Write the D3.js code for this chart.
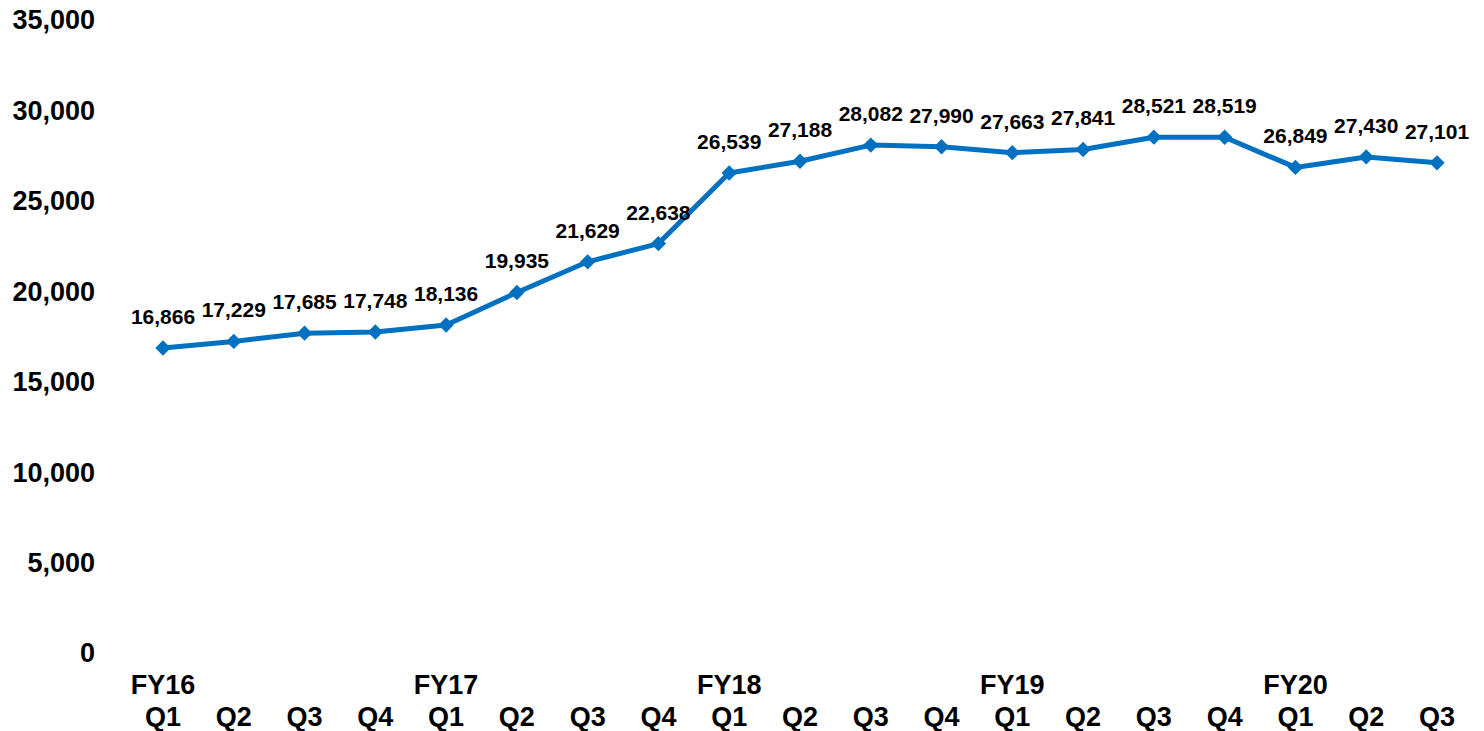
<!DOCTYPE html>
<html>
<head>
<meta charset="utf-8">
<script src="https://cdn.jsdelivr.net/npm/d3@7"></script>
<style>
    body { margin: 0; background: #fff; }
    text { font-family: "Liberation Sans", Arial, sans-serif; font-weight: bold; fill: #000; }
</style>
</head>
<body>
<svg id="chart" width="1484" height="731"></svg>
<script>
var years = ['FY16', '', '', '', 'FY17', '', '', '', 'FY18', '', '', '', 'FY19', '', '', '', 'FY20', '', ''];
var quarters = ['Q1', 'Q2', 'Q3', 'Q4', 'Q1', 'Q2', 'Q3', 'Q4', 'Q1', 'Q2', 'Q3', 'Q4', 'Q1', 'Q2', 'Q3', 'Q4', 'Q1', 'Q2', 'Q3'];
var values = [16866, 17229, 17685, 17748, 18136, 19935, 21629, 22638, 26539, 27188, 28082, 27990, 27663, 27841, 28521, 28519, 26849, 27430, 27101];
var yTicks = [0, 5000, 10000, 15000, 20000, 25000, 30000, 35000];

var svg = d3.select('#chart');
var color = '#0070C0';

var x = d3.scalePoint()
    .domain(d3.range(values.length))
    .range([163, 1437]);

var y = d3.scaleLinear()
    .domain([0, 35000])
    .range([653, 20]);

var fmt = d3.format(',');

// y axis labels, no line
svg.append('g').selectAll('text')
    .data(yTicks)
    .enter()
    .append('text')
    .attr('x', 95)
    .attr('y', function (d) { return y(d); })
    .attr('dy', '0.35em')
    .attr('text-anchor', 'end')
    .style('font-size', '27px')
    .text(function (d) { return fmt(d); });

// x labels, two rows
var xg = svg.append('g');
xg.selectAll('text.year')
    .data(years)
    .enter()
    .append('text')
    .attr('class', 'year')
    .attr('x', function (d, i) { return x(i); })
    .attr('y', 694)
    .attr('text-anchor', 'middle')
    .style('font-size', '27px')
    .text(function (d) { return d; });

xg.selectAll('text.qtr')
    .data(quarters)
    .enter()
    .append('text')
    .attr('class', 'qtr')
    .attr('x', function (d, i) { return x(i); })
    .attr('y', 726)
    .attr('text-anchor', 'middle')
    .style('font-size', '27px')
    .text(function (d) { return d; });

var line = d3.line()
    .x(function (d, i) { return x(i); })
    .y(function (d) { return y(d); });

svg.append('path')
    .datum(values)
    .attr('d', line)
    .attr('fill', 'none')
    .attr('stroke', color)
    .attr('stroke-width', 5)
    .attr('stroke-linejoin', 'round');

svg.append('g').selectAll('path.marker')
    .data(values)
    .enter()
    .append('path')
    .attr('class', 'marker')
    .attr('d', d3.symbol().type(d3.symbolDiamond2).size(150))
    .attr('transform', function (d, i) { return 'translate(' + x(i) + ',' + y(d) + ')'; })
    .attr('fill', color);

svg.append('g').selectAll('text.label')
    .data(values)
    .enter()
    .append('text')
    .attr('class', 'label')
    .attr('x', function (d, i) { return x(i); })
    .attr('y', function (d) { return y(d) - 24; })
    .attr('text-anchor', 'middle')
    .style('font-size', '21px')
    .text(function (d) { return fmt(d); });
</script>
</body>
</html>
